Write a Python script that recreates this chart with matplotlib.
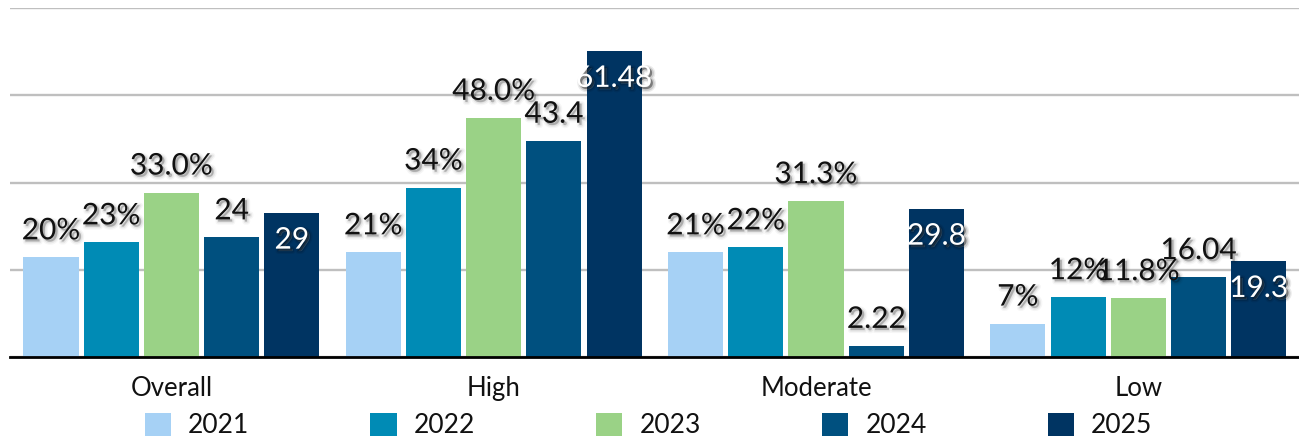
import matplotlib
matplotlib.use("Agg")
import matplotlib.pyplot as plt
import matplotlib.patheffects as pe
import numpy as np

plt.rcParams['font.family'] = ['Lato', 'DejaVu Sans']

categories = ["Overall", "High", "Moderate", "Low"]
years = ["2021", "2022", "2023", "2024", "2025"]
values = {
    "2021": [20.0, 21.0, 21.0, 6.7],
    "2022": [23.0, 34.0, 22.0, 12.0],
    "2023": [33.0, 48.0, 31.3, 11.8],
    "2024": [24.0, 43.4, 2.22, 16.04],
    "2025": [29.0, 61.48, 29.8, 19.3],
}
labels = {
    "2021": ["20%", "21%", "21%", "7%"],
    "2022": ["23%", "34%", "22%", "12%"],
    "2023": ["33.0%", "48.0%", "31.3%", "11.8%"],
    "2024": ["24", "43.4", "2.22", "16.04"],
    "2025": ["29", "61.48", "29.8", "19.3"],
}
colors = ["#A6D1F5", "#008BB5", "#9AD286", "#00507F", "#003462"]

W, H = 1299, 443
fig = plt.figure(figsize=(W / 100, H / 100), dpi=100)
ax = fig.add_axes([10.25 / W, (H - 357) / H, 1289.2 / W, (357 - 8.3) / H])


def soft_shadow(a):
    return [
        pe.Stroke(offset=(1.8, -1.8), linewidth=4, foreground="black", alpha=0.035 * a),
        pe.Stroke(offset=(1.8, -1.8), linewidth=2, foreground="black", alpha=0.06 * a),
        pe.SimplePatchShadow(offset=(1.5, -1.5), shadow_rgbFace="black", alpha=0.18 * a),
        pe.Normal(),
    ]


x = np.arange(len(categories))
step = 0.1868
bw = 0.171
handles = []
for i, yr in enumerate(years):
    pos = x + (i - 2) * step
    b = ax.bar(pos, values[yr], width=bw, color=colors[i], label=yr, zorder=3)
    handles.append(b)
    inside = (yr == "2025")
    for px, v, lab in zip(pos, values[yr], labels[yr]):
        if inside:
            off, col, effects = -26, "white", soft_shadow(2.2)
        else:
            off, col, effects = 13, "#111111", soft_shadow(1.0)
        ax.annotate(lab, (px, v), xytext=(0, off), textcoords="offset points",
                    ha="center", va="baseline", fontsize=21.5, color=col, zorder=5,
                    path_effects=effects)

ax.set_xlim(-0.5, 3.5)
ax.set_ylim(0, 70)
ax.set_yticks([0, 17.5, 35, 52.5, 70])
ax.yaxis.grid(True, color="#BFBFBF", linewidth=1.7, zorder=0)
ax.set_axisbelow(True)
ax.tick_params(axis="y", left=False, labelleft=False)
ax.set_xticks(x)
ax.set_xticklabels(categories, fontsize=18.5, color="#111111")
ax.tick_params(axis="x", length=0, pad=14)
for s in ["top", "right", "left"]:
    ax.spines[s].set_visible(False)
ax.spines["bottom"].set_color("black")
ax.spines["bottom"].set_linewidth(2.0)
ax.spines["bottom"].set_zorder(4)

fig.legend(handles=handles, labels=years, loc="center", bbox_to_anchor=(0.4992, 0.0395),
           ncol=5, frameon=False, prop={"size": 19},
           handlelength=1.0, handleheight=1.0,
           handletextpad=0.65, columnspacing=4.58, borderpad=0.0, labelcolor="#111111")

fig.savefig("out.png", dpi=100)
